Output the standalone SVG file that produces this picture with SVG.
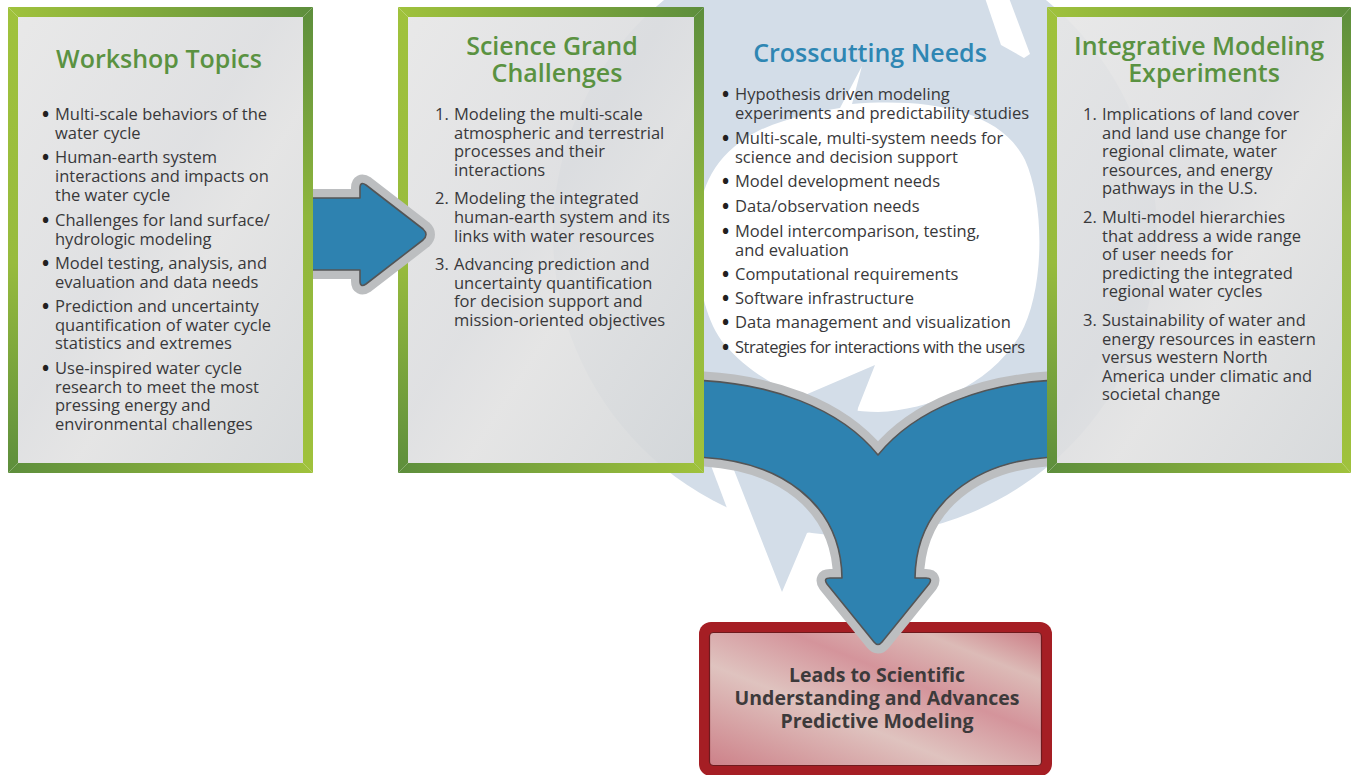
<svg xmlns="http://www.w3.org/2000/svg" width="1351" height="775" viewBox="0 0 1351 775">
  <defs>
    <style>
      .t{font-family:'Open Sans','Liberation Sans',Arial,sans-serif;font-size:16.5px;fill:#38383a}
      .b{font-size:19px;font-weight:700;fill:#231f20}
      .h{font-family:'Open Sans','Liberation Sans',Arial,sans-serif;font-size:25px;font-weight:600;text-anchor:middle}
      .hg{fill:#5a9241}
      .hb{fill:#2e86b3}
      .ring{fill:#d3dde8}
      .gap{fill:#ffffff}
      .face{fill:url(#face);fill-opacity:0.9}
      .halo{fill:none;stroke:#bcbec0;stroke-width:18;stroke-linejoin:round}
      .arrow{fill:#2e82b0;stroke:#545556;stroke-width:1.6;stroke-linejoin:round}
      .res{font-family:'Open Sans','Liberation Sans',Arial,sans-serif;font-size:19.5px;font-weight:700;fill:#3d3a3b;text-anchor:middle}
    </style>
    <linearGradient id="gTop" x1="0" y1="0" x2="1" y2="0">
      <stop offset="0" stop-color="#a0c23c"/><stop offset="1" stop-color="#5d8e3c"/>
    </linearGradient>
    <linearGradient id="gBot" x1="0" y1="0" x2="1" y2="0">
      <stop offset="0" stop-color="#5d8e3c"/><stop offset="1" stop-color="#a0c23c"/>
    </linearGradient>
    <linearGradient id="gLeft" x1="0" y1="0" x2="0" y2="1">
      <stop offset="0" stop-color="#a0c23c"/><stop offset="0.55" stop-color="#97bb3d"/><stop offset="1" stop-color="#5d8e3c"/>
    </linearGradient>
    <linearGradient id="gRight" x1="0" y1="0" x2="0" y2="1">
      <stop offset="0" stop-color="#5d8e3c"/><stop offset="0.45" stop-color="#8fb63d"/><stop offset="1" stop-color="#a0c23c"/>
    </linearGradient>
    <linearGradient id="face" x1="0" y1="0" x2="1" y2="1">
      <stop offset="0" stop-color="#e6e6e6"/>
      <stop offset="0.45" stop-color="#dcdddf"/>
      <stop offset="0.6" stop-color="#e2e2e2"/>
      <stop offset="1" stop-color="#d3d6d8"/>
    </linearGradient>
    <linearGradient id="pink" x1="0" y1="1" x2="1" y2="0">
      <stop offset="0" stop-color="#cd8189"/>
      <stop offset="0.38" stop-color="#dfc3bf"/>
      <stop offset="0.62" stop-color="#d4949b"/>
      <stop offset="0.82" stop-color="#dcbbb7"/>
      <stop offset="1" stop-color="#cc7d86"/>
    </linearGradient>
    <clipPath id="clipA"><rect x="313" y="100" width="200" height="250"/></clipPath>
    <clipPath id="clipY"><rect x="704" y="300" width="343" height="420"/></clipPath>
  </defs>

  <rect width="1351" height="775" fill="#ffffff"/>

  <!-- background cycle: two light-blue swirl arrows -->
  <g id="cycle">
    <circle class="ring" cx="855" cy="234" r="302"/>
    <path class="gap" d="M840,108 L862,66 L852,104 C930,98 1000,110 1025,160 C1045,205 1045,290 1020,335 C990,385 930,410 878,412 C820,412 760,385 725,345 C700,315 695,260 698,220 C702,180 720,150 760,130 C790,117 815,112 840,108 Z"/>
    <polygon class="gap" points="985,-2 1009,-2 1030,54 1024,58 1001,45"/>
    <polygon class="gap" points="733,524 690,410 714,410 757,524"/>
    <polygon class="ring" points="719,432 782,592 807,533 840,520 858,408 875,365"/>
  </g>

  <!-- Workshop Topics -->
  <g id="workshop-topics">
    <polygon fill="url(#gTop)" points="8,7 313,7 303,17 18,17"/>
    <polygon fill="url(#gRight)" points="313,7 313,473 303,463 303,17"/>
    <polygon fill="url(#gBot)" points="8,473 313,473 303,463 18,463"/>
    <polygon fill="url(#gLeft)" points="8,7 8,473 18,463 18,17"/>
    <rect class="face" x="18" y="17" width="285" height="446"/>
    <text class="h hg" x="159" y="68">Workshop Topics</text>
    <text class="t"><tspan class="b" x="42" y="121">•</tspan><tspan x="55" y="120">Multi-scale behaviors of the</tspan><tspan x="55" dy="19">water cycle</tspan></text>
    <text class="t"><tspan class="b" x="42" y="164">•</tspan><tspan x="55" y="163">Human-earth system</tspan><tspan x="55" dy="19">interactions and impacts on</tspan><tspan x="55" dy="19">the water cycle</tspan></text>
    <text class="t"><tspan class="b" x="42" y="227">•</tspan><tspan x="55" y="226">Challenges for land surface/</tspan><tspan x="55" dy="18.5">hydrologic modeling</tspan></text>
    <text class="t"><tspan class="b" x="42" y="270">•</tspan><tspan x="55" y="269">Model testing, analysis, and</tspan><tspan x="55" dy="18.5">evaluation and data needs</tspan></text>
    <text class="t"><tspan class="b" x="42" y="313">•</tspan><tspan x="55" y="312">Prediction and uncertainty</tspan><tspan x="55" dy="18.7">quantification of water cycle</tspan><tspan x="55" dy="18.7">statistics and extremes</tspan></text>
    <text class="t"><tspan class="b" x="42" y="375">•</tspan><tspan x="55" y="374">Use-inspired water cycle</tspan><tspan x="55" dy="18.7">research to meet the most</tspan><tspan x="55" dy="18.7">pressing energy and</tspan><tspan x="55" dy="18.7">environmental challenges</tspan></text>
  </g>

  <!-- Science Grand Challenges -->
  <g id="science-grand-challenges">
    <polygon fill="url(#gTop)" points="398,7 704,7 694,17 408,17"/>
    <polygon fill="url(#gRight)" points="704,7 704,473 694,463 694,17"/>
    <polygon fill="url(#gBot)" points="398,473 704,473 694,463 408,463"/>
    <polygon fill="url(#gLeft)" points="398,7 398,473 408,463 408,17"/>
    <rect class="face" x="408" y="17" width="286" height="446"/>
    <text class="h hg"><tspan x="552" y="55">Science Grand</tspan><tspan x="557" dy="27">Challenges</tspan></text>
    <text class="t"><tspan x="435" y="120">1.</tspan><tspan x="454" y="120">Modeling the multi-scale</tspan><tspan x="454" dy="18.7">atmospheric and terrestrial</tspan><tspan x="454" dy="18.7">processes and their</tspan><tspan x="454" dy="18.7">interactions</tspan></text>
    <text class="t"><tspan x="435" y="204">2.</tspan><tspan x="454" y="204">Modeling the integrated</tspan><tspan x="454" dy="18.8">human-earth system and its</tspan><tspan x="454" dy="18.8">links with water resources</tspan></text>
    <text class="t"><tspan x="435" y="270">3.</tspan><tspan x="454" y="270">Advancing prediction and</tspan><tspan x="454" dy="18.7">uncertainty quantification</tspan><tspan x="454" dy="18.7">for decision support and</tspan><tspan x="454" dy="18.7">mission-oriented objectives</tspan></text>
  </g>

  <!-- Crosscutting Needs (sits on the cycle) -->
  <g id="crosscutting-needs">
    <text class="h hb" x="870" y="62">Crosscutting Needs</text>
    <text class="t"><tspan class="b" x="722" y="101">•</tspan><tspan x="735" y="100">Hypothesis driven modeling</tspan><tspan x="735" dy="19">experiments and predictability studies</tspan></text>
    <text class="t"><tspan class="b" x="722" y="145">•</tspan><tspan x="735" y="144">Multi-scale, multi-system needs for</tspan><tspan x="735" dy="19">science and decision support</tspan></text>
    <text class="t"><tspan class="b" x="722" y="188">•</tspan><tspan x="735" y="187">Model development needs</tspan></text>
    <text class="t"><tspan class="b" x="722" y="213">•</tspan><tspan x="735" y="212">Data/observation needs</tspan></text>
    <text class="t"><tspan class="b" x="722" y="238">•</tspan><tspan x="735" y="237">Model intercomparison, testing,</tspan><tspan x="735" dy="18.5">and evaluation</tspan></text>
    <text class="t"><tspan class="b" x="722" y="281">•</tspan><tspan x="735" y="280">Computational requirements</tspan></text>
    <text class="t"><tspan class="b" x="722" y="305">•</tspan><tspan x="735" y="304">Software infrastructure</tspan></text>
    <text class="t"><tspan class="b" x="722" y="329">•</tspan><tspan x="735" y="328">Data management and visualization</tspan></text>
    <text class="t"><tspan class="b" x="722" y="354">•</tspan><tspan x="735" y="353" textLength="290" lengthAdjust="spacing">Strategies for interactions with the users</tspan></text>
  </g>

  <!-- Integrative Modeling Experiments -->
  <g id="integrative-modeling-experiments">
    <polygon fill="url(#gTop)" points="1047,7 1351,7 1342,17 1057,17"/>
    <polygon fill="url(#gRight)" points="1351,7 1351,473 1342,463 1342,17"/>
    <polygon fill="url(#gBot)" points="1047,473 1351,473 1342,463 1057,463"/>
    <polygon fill="url(#gLeft)" points="1047,7 1047,473 1057,463 1057,17"/>
    <rect class="face" x="1057" y="17" width="285" height="446"/>
    <text class="h hg"><tspan x="1199" y="55">Integrative Modeling</tspan><tspan x="1204" dy="27">Experiments</tspan></text>
    <text class="t"><tspan x="1083" y="120">1.</tspan><tspan x="1102" y="120">Implications of land cover</tspan><tspan x="1102" dy="18.6">and land use change for</tspan><tspan x="1102" dy="18.6">regional climate, water</tspan><tspan x="1102" dy="18.6">resources, and energy</tspan><tspan x="1102" dy="18.6">pathways in the U.S.</tspan></text>
    <text class="t"><tspan x="1083" y="223">2.</tspan><tspan x="1102" y="223">Multi-model hierarchies</tspan><tspan x="1102" dy="18.6">that address a wide range</tspan><tspan x="1102" dy="18.6">of user needs for</tspan><tspan x="1102" dy="18.6">predicting the integrated</tspan><tspan x="1102" dy="18.6">regional water cycles</tspan></text>
    <text class="t"><tspan x="1083" y="326">3.</tspan><tspan x="1102" y="326">Sustainability of water and</tspan><tspan x="1102" dy="18.6">energy resources in eastern</tspan><tspan x="1102" dy="18.6">versus western North</tspan><tspan x="1102" dy="18.6">America under climatic and</tspan><tspan x="1102" dy="18.6">societal change</tspan></text>
  </g>

  <!-- Result -->
  <g id="leads-to-understanding">
    <rect x="699" y="622" width="353" height="154" rx="12" fill="#a51e24"/>
    <rect x="709.5" y="632.5" width="332" height="133" rx="4" fill="url(#pink)" stroke="#6e1a1d" stroke-width="1.2"/>
    <text class="res"><tspan x="877" y="682">Leads to Scientific</tspan><tspan x="877" dy="23">Understanding and Advances</tspan><tspan x="877" dy="23">Predictive Modeling</tspan></text>
  </g>

  <!-- connectors -->
  <g id="connectors">
    <g clip-path="url(#clipA)">
      <path class="halo" d="M290,198 L360,198 L360,188 Q360,181 366,185 L423,229 Q429,234.5 423,240 L366,284 Q360,288 360,281 L360,270 L290,270 Z"/>
      <path class="arrow" d="M290,198 L360,198 L360,188 Q360,181 366,185 L423,229 Q429,234.5 423,240 L366,284 Q360,288 360,281 L360,270 L290,270 Z"/>
    </g>
    <g clip-path="url(#clipY)">
      <path class="halo" d="M690,380 C770,382 840,408 878,455 C916,408 986,382 1060,380 L1060,457 C975,458 916,505 915,578 L926,578 Q933,578 929,584 L882,642 Q878,647 874,642 L827,584 Q823,578 830,578 L842,578 C841,505 782,458 690,457 Z"/>
      <path class="arrow" d="M690,380 C770,382 840,408 878,455 C916,408 986,382 1060,380 L1060,457 C975,458 916,505 915,578 L926,578 Q933,578 929,584 L882,642 Q878,647 874,642 L827,584 Q823,578 830,578 L842,578 C841,505 782,458 690,457 Z"/>
    </g>
  </g>
</svg>
